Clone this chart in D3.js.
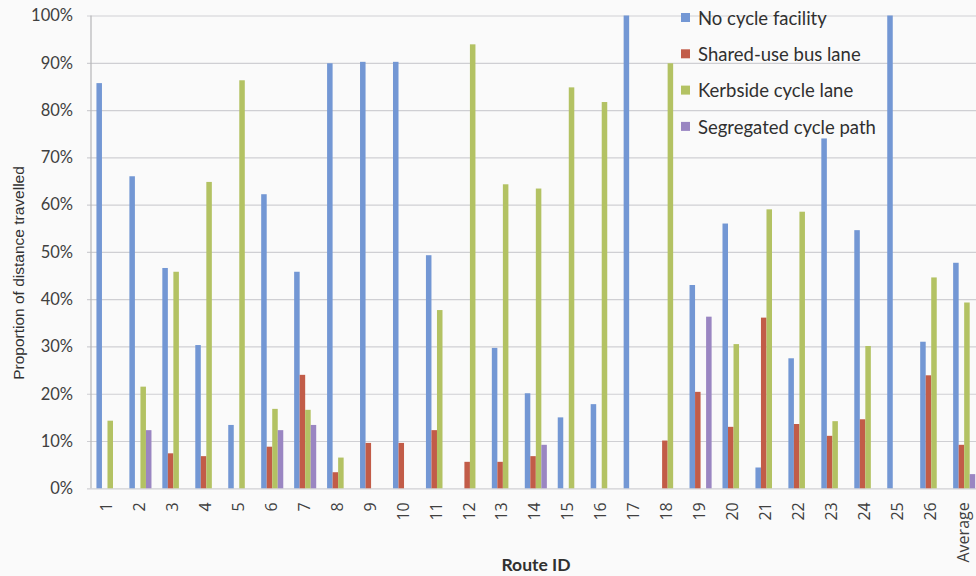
<!DOCTYPE html>
<html>
<head>
<meta charset="utf-8">
<script src="https://cdn.jsdelivr.net/npm/d3@7"></script>
<style>
  html, body { margin: 0; padding: 0; background: #fafafa; }
  svg { display: block; }
</style>
</head>
<body>
<svg id="chart" width="976" height="576"></svg>
<script>
// Route IDs along the x axis
const routes = ["1","2","3","4","5","6","7","8","9","10","11","12","13","14","15","16","17","18","19","20","21","22","23","24","25","26","Average"];

// Share of distance travelled (%) on each facility type, per route
const noCycleFacility = [85.7, 66.0, 46.6, 30.3, 13.4, 62.2, 45.8, 89.9, 90.2, 90.2, 49.3, 0, 29.7, 20.1, 15.0, 17.8, 100, 0, 43.0, 56.0, 4.4, 27.5, 74.0, 54.6, 100, 31.0, 47.7];
const sharedBusLane   = [0, 0, 7.4, 6.8, 0, 8.8, 24.0, 3.4, 9.6, 9.6, 12.3, 5.6, 5.6, 6.8, 0, 0, 0, 10.1, 20.4, 13.0, 36.1, 13.6, 11.1, 14.6, 0, 23.9, 9.2];
const kerbsideLane    = [14.3, 21.5, 45.8, 64.8, 86.3, 16.8, 16.6, 6.5, 0, 0, 37.7, 93.9, 64.3, 63.4, 84.8, 81.7, 0, 89.9, 0, 30.5, 59.0, 58.5, 14.2, 30.1, 0, 44.6, 39.3];
const segregatedPath  = [0, 12.3, 0, 0, 0, 12.3, 13.4, 0, 0, 0, 0, 0, 0, 9.2, 0, 0, 0, 0, 36.3, 0, 0, 0, 0, 0, 0, 0, 3.0];

const seriesNames = ["No cycle facility", "Shared-use bus lane", "Kerbside cycle lane", "Segregated cycle path"];
const seriesValues = [noCycleFacility, sharedBusLane, kerbsideLane, segregatedPath];
const seriesColors = ["#7397d4", "#c25c48", "#b3c263", "#9a86c2"];

const yTicks = [0, 10, 20, 30, 40, 50, 60, 70, 80, 90, 100];

const svg = d3.select("#chart");
const plotLeft = 91, plotTop = 15.5, plotBottom = 488.3;
const step = 32.95;

const x = d3.scaleBand()
  .domain(routes)
  .range([plotLeft, plotLeft + step * routes.length])
  .paddingInner(0.33)
  .paddingOuter(0.165);

const xs = d3.scaleBand()
  .domain(seriesNames)
  .range([0, x.bandwidth()]);

const y = d3.scaleLinear().domain([0, 100]).range([plotBottom, plotTop]);

// Horizontal gridlines with short ticks left of the axis
const yAxis = d3.axisLeft(y)
  .tickValues(yTicks)
  .tickFormat(d => d + "%")
  .tickSize(-(976 - plotLeft + 10))
  .tickPadding(18);

const gy = svg.append("g")
  .attr("transform", `translate(${plotLeft},0)`)
  .call(yAxis);
gy.select(".domain").remove();
gy.selectAll(".tick line")
  .attr("x1", -4)
  .attr("stroke", "#cfcfd3")
  .attr("stroke-width", 1.2);
gy.selectAll(".tick text")
  .attr("fill", "#404040")
  .style("font-family", "Lato, 'Open Sans', sans-serif")
  .style("font-size", "16.5px");

// Vertical axis line
svg.append("line")
  .attr("x1", plotLeft).attr("x2", plotLeft)
  .attr("y1", y(100)).attr("y2", y(0))
  .attr("stroke", "#b5b5b8")
  .attr("stroke-width", 1.2);

// Bars
const rows = routes.map((r, i) => ({ route: r, vals: seriesNames.map((s, k) => ({ s, k, v: seriesValues[k][i] })) }));

svg.append("g")
  .selectAll("g")
  .data(rows)
  .join("g")
  .attr("transform", d => `translate(${x(d.route)},0)`)
  .selectAll("rect")
  .data(d => d.vals.filter(e => e.v > 0))
  .join("rect")
  .attr("x", d => xs(d.s))
  .attr("width", xs.bandwidth())
  .attr("y", d => y(d.v))
  .attr("height", d => y(0) - y(d.v))
  .attr("fill", d => seriesColors[d.k]);

// Category labels, rotated to read upward
const xAxis = d3.axisBottom(x).tickSize(0).tickPadding(0);
const gx = svg.append("g")
  .attr("transform", `translate(0,${plotBottom})`)
  .call(xAxis);
gx.select(".domain").remove();
gx.selectAll(".tick text")
  .attr("transform", "translate(-1,14) rotate(-90)")
  .attr("dy", "0.35em")
  .attr("x", 0).attr("y", 0)
  .attr("text-anchor", "end")
  .attr("fill", "#404040")
  .style("font-family", "'Open Sans', Lato, sans-serif")
  .style("font-size", "16px");

// Axis titles
svg.append("text")
  .attr("transform", "translate(24,273) rotate(-90)")
  .attr("text-anchor", "middle")
  .attr("fill", "#303030")
  .style("font-family", "'Liberation Sans', Arial, sans-serif")
  .style("font-size", "15.5px")
  .text("Proportion of distance travelled");

svg.append("text")
  .attr("x", 536).attr("y", 571)
  .attr("text-anchor", "middle")
  .attr("fill", "#303030")
  .style("font-family", "Lato, 'Open Sans', sans-serif")
  .style("font-weight", "bold")
  .style("font-size", "17.5px")
  .text("Route ID");

// Legend
const legend = svg.append("g").attr("transform", "translate(681,18)");
const li = legend.selectAll("g")
  .data(seriesNames)
  .join("g")
  .attr("transform", (d, i) => `translate(0,${i * 36.3})`);
li.append("rect")
  .attr("x", 0).attr("y", -5)
  .attr("width", 9).attr("height", 9)
  .attr("fill", (d, i) => seriesColors[i]);
li.append("text")
  .attr("x", 17).attr("y", 0)
  .attr("dy", "0.36em")
  .attr("fill", "#303030")
  .style("font-family", "Lato, 'Open Sans', sans-serif")
  .style("font-size", "18.5px")
  .text(d => d);
</script>
</body>
</html>
